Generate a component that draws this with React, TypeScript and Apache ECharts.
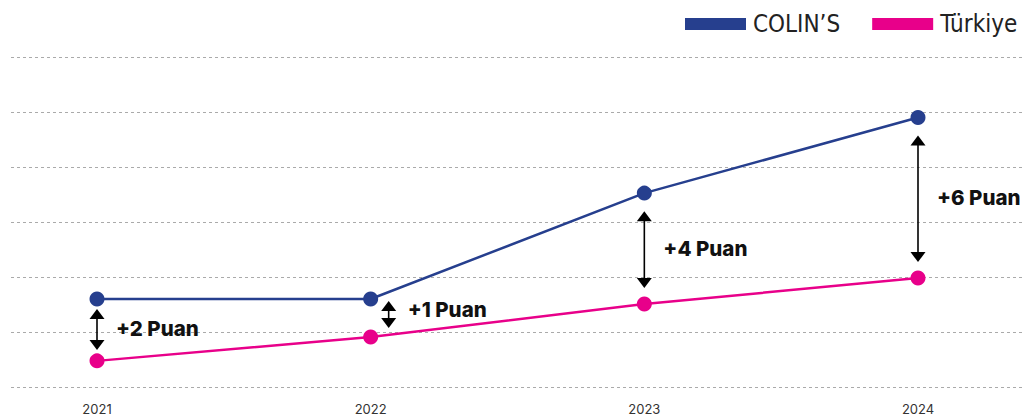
import React, { useEffect, useRef } from "react";
import * as echarts from "echarts";

const years = ["2021", "2022", "2023", "2024"];
const colins = [3.2, 3.2, 7.05, 9.8];
const turkiye = [0.95, 1.82, 3.02, 3.96];
const gapLabels = ["+2 Puan", "+1 Puan", "+4 Puan", "+6 Puan"];
const seriesNames = ["COLIN\u2019S", "T\u00fcrkiye"];

const BLUE = "#263f8e";
const PINK = "#e8008a";

export default function App() {
  const ref = useRef<HTMLDivElement>(null);
  useEffect(() => {
    if (!ref.current) return;
    const chart = echarts.init(ref.current, null, { renderer: "svg" });
    const annData = years.map((_, i) => [i, colins[i], turkiye[i], gapLabels[i]]);
    chart.setOption({
      animation: false,
      legend: {
        data: seriesNames,
        left: 680,
        top: 7,
        width: 600,
        itemWidth: 61,
        itemHeight: 12,
        itemGap: 32,
        icon: "rect",
        textStyle: {
          fontFamily: "'Liberation Sans Narrow', 'DejaVu Sans Condensed', sans-serif",
          fontSize: 24,
          color: "#222",
          padding: [0, 0, 0, 2],
        },
      },
      grid: [
        { left: 11, right: 3, top: 57, bottom: 30 },
        { left: 97, right: 109, top: 57, bottom: 30 },
      ],
      xAxis: [
        { type: "value", gridIndex: 0, min: 0, max: 1, show: false },
        {
          type: "category",
          gridIndex: 1,
          data: years,
          boundaryGap: false,
          axisLine: { show: false },
          axisTick: { show: false },
          axisLabel: {
            margin: 15,
            fontFamily: "Inter, 'Noto Sans', sans-serif",
            fontSize: 13,
            color: "#333",
          },
        },
      ],
      yAxis: [
        {
          type: "value",
          gridIndex: 0,
          min: 0,
          max: 12,
          interval: 2,
          axisLine: { show: false },
          axisTick: { show: false },
          axisLabel: { show: false },
          splitLine: { lineStyle: { color: "#aaa", width: 1, type: [3, 3] } },
        },
        {
          type: "value",
          gridIndex: 1,
          min: 0,
          max: 12,
          interval: 2,
          show: false,
          splitLine: { show: false },
        },
      ],
      series: [
        {
          name: seriesNames[0],
          type: "line",
          xAxisIndex: 1,
          yAxisIndex: 1,
          data: colins,
          symbol: "circle",
          symbolSize: 15,
          lineStyle: { color: BLUE, width: 2.5 },
          itemStyle: { color: BLUE },
          z: 3,
        },
        {
          name: seriesNames[1],
          type: "line",
          xAxisIndex: 1,
          yAxisIndex: 1,
          data: turkiye,
          symbol: "circle",
          symbolSize: 15,
          lineStyle: { color: PINK, width: 2.5 },
          itemStyle: { color: PINK },
          z: 3,
        },
        {
          type: "custom",
          xAxisIndex: 1,
          yAxisIndex: 1,
          data: annData,
          encode: { x: 0, y: [1, 2] },
          z: 4,
          renderItem: (params: any, api: any) => {
            const i = api.value(0);
            const top = api.coord([i, api.value(1)]);
            const bot = api.coord([i, api.value(2)]);
            const dist = bot[1] - top[1];
            let x = top[0];
            let y1: number;
            let y2: number;
            let textY: number;
            if (dist < 45) {
              x += 18;
              y1 = top[1] + 2;
              y2 = bot[1] - 9;
              textY = (top[1] + bot[1]) / 2 - 8;
            } else if (dist < 80) {
              y1 = top[1] + 10;
              y2 = bot[1] - 11;
              textY = (y1 + y2) / 2 - 1;
            } else {
              y1 = top[1] + 18;
              y2 = bot[1] - 16;
              textY = (y1 + y2) / 2 - 1.5;
            }
            const hw = 7.5;
            const hh = 10;
            const label = gapLabels[params.dataIndex];
            return {
              type: "group",
              children: [
                {
                  type: "line",
                  shape: { x1: x, y1: y1 + hh - 1, x2: x, y2: y2 - hh + 1 },
                  style: { stroke: "#000", lineWidth: 1.6 },
                },
                {
                  type: "polygon",
                  shape: { points: [[x - hw, y1 + hh], [x + hw, y1 + hh], [x, y1]] },
                  style: { fill: "#000" },
                },
                {
                  type: "polygon",
                  shape: { points: [[x - hw, y2 - hh], [x + hw, y2 - hh], [x, y2]] },
                  style: { fill: "#000" },
                },
                {
                  type: "text",
                  x: x + 19,
                  y: textY,
                  style: {
                    text: label,
                    fill: "#111",
                    font: "800 20.5px Inter, 'Noto Sans', sans-serif",
                    align: "left",
                    verticalAlign: "middle",
                  },
                },
              ],
            };
          },
        },
      ],
    });
    return () => chart.dispose();
  }, []);
  return (
    <div
      ref={ref}
      style={{ position: "absolute", left: 0, top: 0, width: 1027, height: 417 }}
    />
  );
}
